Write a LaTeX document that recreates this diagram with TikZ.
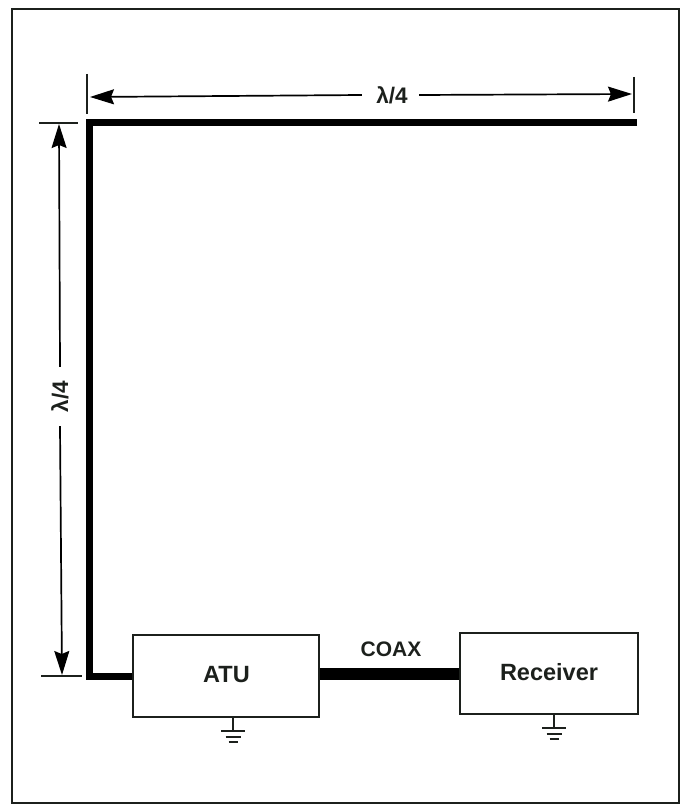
\documentclass[tikz,border=0pt]{standalone}
\usepackage{fontspec}
\setmainfont{Liberation Sans}
\usetikzlibrary{arrows.meta}
\definecolor{atuink}{HTML}{1C201C}
\tikzset{
  bx/.style={draw=atuink, line width=1.8pt, fill=white, align=center, inner sep=0pt, text=atuink, font=\fontsize{23.5}{26}\selectfont\bfseries},
  wire/.style={line width=7pt, color=black},
  coax/.style={line width=12pt, color=black},
  arr/.style={-{Stealth[length=24pt, width=15pt, inset=3pt]}, line width=1.7pt, color=black},
  tick/.style={line width=1.7pt, color=atuink},
  gnd/.style={line width=2pt, color=atuink},
  lbl/.style={inner sep=0pt, text=atuink, font=\fontsize{22.5}{25}\selectfont\bfseries},
  tag/.style={inner sep=0pt, text=atuink, font=\fontsize{21}{23}\selectfont\bfseries},
}
\begin{document}
\begin{tikzpicture}[x=1pt, y=-1pt]
    \useasboundingbox (0,0) rectangle (682,805);
    \draw[atuink, line width=2pt] (12,9) rectangle (679,803);
    % boxes
    \node[bx, minimum width=186pt, minimum height=82pt] (atu) at (226,676) {\raisebox{3pt}{\hspace{1pt}ATU}};
    \node[bx, minimum width=178pt, minimum height=81pt] (rx) at (549,673.5) {\raisebox{2.5pt}{Receiver}};
    \node[tag] (coaxlbl) at (391,649) {COAX};
    % antenna and feed
    \coordinate (wireend) at (637,123);
    \coordinate (wirecnr) at (89,123);
    \draw[wire] (wireend) -- (wirecnr) |- (atu.west);
    \draw[coax] (atu.east |- rx.west) -- (rx.west);
    % dimension along the top
    \node[lbl, minimum width=57pt, minimum height=24pt] (toplam) at (390.5,95) {\hspace{3pt}λ/4};
    \coordinate (tl0) at (87,74);
    \coordinate (tl1) at (87,114);
    \coordinate (tr0) at (634,77);
    \coordinate (tr1) at (634,113);
    \draw[tick] (tl0) -- (tl1);
    \draw[tick] (tr0) -- (tr1);
    \coordinate (hl) at (90,97);
    \coordinate (hr) at (632,94);
    \draw[arr] (toplam.west) -- (hl);
    \draw[arr] (toplam.east) -- (hr);
    % dimension down the side
    \node[lbl, rotate=90, minimum width=59pt, minimum height=24pt] (sidelam) at (60,396.5) {λ/4};
    \coordinate (st0) at (39,123);
    \coordinate (st1) at (78,123);
    \coordinate (sb0) at (41,676);
    \coordinate (sb1) at (82,676);
    \draw[tick] (st0) -- (st1);
    \draw[tick] (sb0) -- (sb1);
    \coordinate (vt) at (59,124);
    \coordinate (vb) at (62,675);
    \draw[arr] (sidelam.east) -- (vt);
    \draw[arr] (sidelam.west) -- (vb);
    % grounds
    \foreach \nm/\dx/\ln in {atu/7/13, rx/5/13}
    {
      \coordinate (\nm g) at ([xshift=\dx pt]\nm.south);
      \draw[gnd] (\nm g) -- ++(0,\ln) coordinate (\nm b);
      \draw[gnd] ([xshift=-12pt]\nm b) -- ([xshift=12pt]\nm b);
      \draw[gnd] ([xshift=-7.5pt, yshift=-6pt]\nm b) -- ([xshift=7.5pt, yshift=-6pt]\nm b);
      \draw[gnd] ([xshift=-4.5pt, yshift=-11.5pt]\nm b) -- ([xshift=4.5pt, yshift=-11.5pt]\nm b);
    }
  \end{tikzpicture}
\end{document}
